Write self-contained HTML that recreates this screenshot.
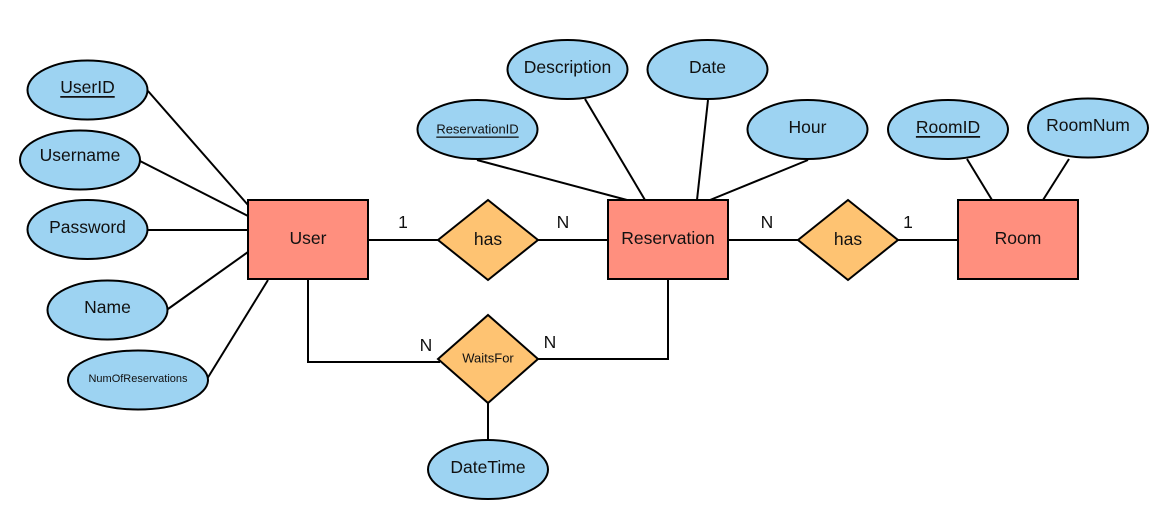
<!DOCTYPE html>
<html><head><meta charset="utf-8"><style>
html,body{margin:0;padding:0;background:#fff;width:1169px;height:527px;overflow:hidden}
text{font-family:"Liberation Sans",sans-serif;fill:#111;text-anchor:middle;dominant-baseline:central}
</style></head><body>
<svg width="1169" height="527" viewBox="0 0 1169 527" xmlns="http://www.w3.org/2000/svg">
<g stroke="#000" stroke-width="2" fill="none">
<line x1="148" y1="91" x2="248" y2="205"/>
<line x1="140" y1="161" x2="248" y2="216"/>
<line x1="148" y1="230" x2="248" y2="230"/>
<line x1="168" y1="309" x2="248" y2="252"/>
<line x1="207" y1="379" x2="268" y2="280"/>
<polyline points="308,280 308,362 440,362"/>
<polyline points="668,280 668,359 538,359"/>
<line x1="488" y1="403" x2="488" y2="440"/>
<line x1="368" y1="240" x2="438" y2="240"/>
<line x1="538" y1="240" x2="608" y2="240"/>
<line x1="728" y1="240" x2="798" y2="240"/>
<line x1="898" y1="240" x2="958" y2="240"/>
<line x1="477" y1="160" x2="627" y2="200"/>
<line x1="585" y1="99" x2="645" y2="200"/>
<line x1="708" y1="100" x2="697" y2="200"/>
<line x1="808" y1="160" x2="710" y2="200"/>
<line x1="967" y1="159" x2="992" y2="200"/>
<line x1="1069" y1="159" x2="1043" y2="200"/>
</g>
<g stroke="#000" stroke-width="2" fill="#9dd3f2">
<ellipse cx="87.5" cy="90" rx="60" ry="29.5"/>
<ellipse cx="80" cy="160" rx="60" ry="29.5"/>
<ellipse cx="87.5" cy="229.5" rx="60" ry="29.5"/>
<ellipse cx="107.5" cy="310" rx="60" ry="29.5"/>
<ellipse cx="138" cy="380" rx="70" ry="29.5"/>
<ellipse cx="477.5" cy="129.5" rx="60" ry="29.5"/>
<ellipse cx="567.5" cy="69.5" rx="60" ry="29.5"/>
<ellipse cx="707.5" cy="69.5" rx="60" ry="29.5"/>
<ellipse cx="807.5" cy="129.5" rx="60" ry="29.5"/>
<ellipse cx="948" cy="129.5" rx="60" ry="29.5"/>
<ellipse cx="1088" cy="128" rx="60" ry="29.5"/>
<ellipse cx="488" cy="469.5" rx="60" ry="29.5"/>
</g>
<g stroke="#000" stroke-width="2" fill="#ff8f7e">
<rect x="248" y="200" width="120" height="79"/>
<rect x="608" y="200" width="120" height="79"/>
<rect x="958" y="200" width="120" height="79"/>
</g>
<g stroke="#000" stroke-width="2" fill="#fec372">
<polygon points="438,240 488,200 538,240 488,280"/>
<polygon points="798,240 848,200 898,240 848,280"/>
<polygon points="438,359 488,315 538,359 488,403"/>
</g>
<g font-size="17.5">
<text x="87.5" y="87" text-decoration="underline">UserID</text>
<text x="80" y="155">Username</text>
<text x="87.5" y="227">Password</text>
<text x="107.5" y="307">Name</text>
<text x="567.5" y="67">Description</text>
<text x="707.5" y="67">Date</text>
<text x="807.5" y="127">Hour</text>
<text x="948" y="127" text-decoration="underline">RoomID</text>
<text x="1088" y="125">RoomNum</text>
<text x="488" y="467">DateTime</text>
<text x="308" y="238">User</text>
<text x="668" y="238">Reservation</text>
<text x="1018" y="238">Room</text>
<text x="488" y="239">has</text>
<text x="848" y="239">has</text>
<text x="403" y="222">1</text>
<text x="563" y="222">N</text>
<text x="767" y="222">N</text>
<text x="908" y="222">1</text>
<text x="426" y="345">N</text>
<text x="550" y="342">N</text>
</g>
<text x="138" y="379" font-size="11">NumOfReservations</text>
<text x="477.5" y="129" font-size="13" text-decoration="underline">ReservationID</text>
<text x="488" y="358" font-size="13">WaitsFor</text>
</svg>
</body></html>
